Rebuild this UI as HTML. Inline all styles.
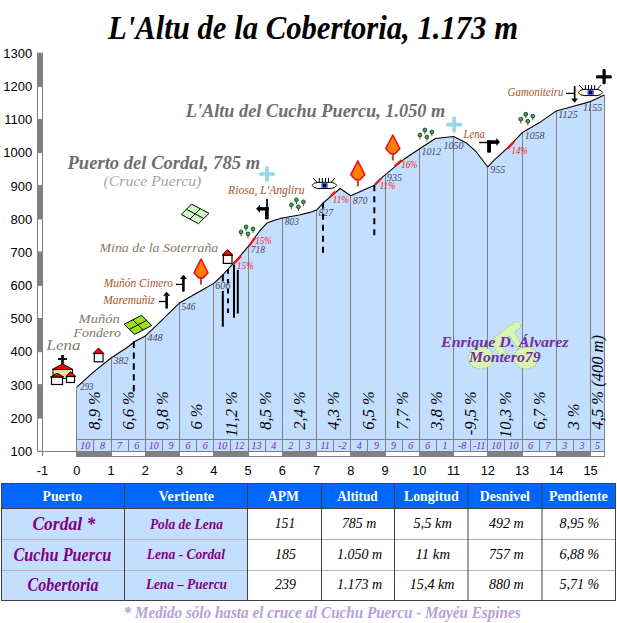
<!DOCTYPE html>
<html><head><meta charset="utf-8"><title>L'Altu de la Cobertoria</title>
<style>html,body{margin:0;padding:0;background:#fff;} body{width:617px;height:623px;position:relative;overflow:hidden;}</style>
</head><body>
<svg width="617" height="623" viewBox="0 0 617 623" style="position:absolute;left:0;top:0">
<text x="108" y="39" font-family="'Liberation Serif', serif" font-weight="bold" font-style="italic" font-size="33.5" textLength="410" lengthAdjust="spacingAndGlyphs" fill="#000">L'Altu de la Cobertoria, 1.173 m</text>
<polygon points="76.80,451.5 76.80,387.19 93.92,371.60 111.05,358.00 128.18,346.73 134.34,341.75 145.30,336.11 162.43,319.53 179.55,302.95 189.82,296.98 201.81,290.34 213.80,283.38 222.02,275.75 231.95,264.81 240.86,255.19 248.05,246.56 259.69,230.98 266.89,223.02 275.45,220.03 282.30,218.04 299.43,215.05 309.70,212.40 316.55,210.08 323.40,202.78 329.91,197.14 340.18,188.52 350.80,195.82 374.43,185.20 382.65,176.91 385.05,174.92 403.89,159.33 419.30,149.05 435.40,138.44 453.55,136.45 466.57,143.08 476.16,151.71 487.80,166.96 493.62,160.66 507.32,148.06 522.05,132.80 539.17,122.85 556.30,110.91 573.42,106.27 590.55,101.62 604.25,94.99 604.5,94.99 604.5,451.5" fill="#c4deff" stroke="none"/>
<line x1="76.5" y1="387.19" x2="76.5" y2="451" stroke="#808080" stroke-width="1"/>
<line x1="111.5" y1="358.00" x2="111.5" y2="451" stroke="#808080" stroke-width="1"/>
<line x1="145.5" y1="336.11" x2="145.5" y2="451" stroke="#808080" stroke-width="1"/>
<line x1="179.5" y1="302.95" x2="179.5" y2="451" stroke="#808080" stroke-width="1"/>
<line x1="213.5" y1="283.38" x2="213.5" y2="451" stroke="#808080" stroke-width="1"/>
<line x1="248.5" y1="246.56" x2="248.5" y2="451" stroke="#808080" stroke-width="1"/>
<line x1="282.5" y1="218.04" x2="282.5" y2="451" stroke="#808080" stroke-width="1"/>
<line x1="316.5" y1="210.08" x2="316.5" y2="451" stroke="#808080" stroke-width="1"/>
<line x1="350.5" y1="195.82" x2="350.5" y2="451" stroke="#808080" stroke-width="1"/>
<line x1="385.5" y1="174.92" x2="385.5" y2="451" stroke="#808080" stroke-width="1"/>
<line x1="419.5" y1="149.05" x2="419.5" y2="451" stroke="#808080" stroke-width="1"/>
<line x1="453.5" y1="136.45" x2="453.5" y2="451" stroke="#808080" stroke-width="1"/>
<line x1="487.5" y1="166.96" x2="487.5" y2="451" stroke="#808080" stroke-width="1"/>
<line x1="522.5" y1="132.80" x2="522.5" y2="451" stroke="#808080" stroke-width="1"/>
<line x1="556.5" y1="110.91" x2="556.5" y2="451" stroke="#808080" stroke-width="1"/>
<line x1="590.5" y1="101.62" x2="590.5" y2="451" stroke="#808080" stroke-width="1"/>
<line x1="604.5" y1="94.99" x2="604.5" y2="457" stroke="#808080" stroke-width="1"/>
<line x1="93.5" y1="439" x2="93.5" y2="451" stroke="#808080" stroke-width="1"/>
<line x1="128.5" y1="439" x2="128.5" y2="451" stroke="#808080" stroke-width="1"/>
<line x1="162.5" y1="439" x2="162.5" y2="451" stroke="#808080" stroke-width="1"/>
<line x1="196.5" y1="439" x2="196.5" y2="451" stroke="#808080" stroke-width="1"/>
<line x1="230.5" y1="439" x2="230.5" y2="451" stroke="#808080" stroke-width="1"/>
<line x1="265.5" y1="439" x2="265.5" y2="451" stroke="#808080" stroke-width="1"/>
<line x1="299.5" y1="439" x2="299.5" y2="451" stroke="#808080" stroke-width="1"/>
<line x1="333.5" y1="439" x2="333.5" y2="451" stroke="#808080" stroke-width="1"/>
<line x1="367.5" y1="439" x2="367.5" y2="451" stroke="#808080" stroke-width="1"/>
<line x1="402.5" y1="439" x2="402.5" y2="451" stroke="#808080" stroke-width="1"/>
<line x1="436.5" y1="439" x2="436.5" y2="451" stroke="#808080" stroke-width="1"/>
<line x1="470.5" y1="439" x2="470.5" y2="451" stroke="#808080" stroke-width="1"/>
<line x1="504.5" y1="439" x2="504.5" y2="451" stroke="#808080" stroke-width="1"/>
<line x1="539.5" y1="439" x2="539.5" y2="451" stroke="#808080" stroke-width="1"/>
<line x1="573.5" y1="439" x2="573.5" y2="451" stroke="#808080" stroke-width="1"/>
<line x1="76.5" y1="439.5" x2="604.5" y2="439.5" stroke="#808080" stroke-width="1"/>
<polyline points="76.80,387.19 93.92,371.60 111.05,358.00 128.18,346.73 134.34,341.75 145.30,336.11 162.43,319.53 179.55,302.95 189.82,296.98 201.81,290.34 213.80,283.38 222.02,275.75 231.95,264.81 240.86,255.19 248.05,246.56 259.69,230.98 266.89,223.02 275.45,220.03 282.30,218.04 299.43,215.05 309.70,212.40 316.55,210.08 323.40,202.78 329.91,197.14 340.18,188.52 350.80,195.82 374.43,185.20 382.65,176.91 385.05,174.92 403.89,159.33 419.30,149.05 435.40,138.44 453.55,136.45 466.57,143.08 476.16,151.71 487.80,166.96 493.62,160.66 507.32,148.06 522.05,132.80 539.17,122.85 556.30,110.91 573.42,106.27 590.55,101.62 604.25,94.99" fill="none" stroke="#000" stroke-width="1.1" stroke-linejoin="round"/>
<line x1="37.5" y1="451.5" x2="76.5" y2="451.5" stroke="#808080" stroke-width="1"/>
<rect x="37.5" y="53.20" width="5" height="33.17" fill="#808080" stroke="#808080" stroke-width="1"/>
<text x="32.2" y="57.90" font-family="'Liberation Sans', sans-serif" font-size="13" text-anchor="end" fill="#000">1300</text>
<rect x="37.5" y="86.37" width="5" height="33.17" fill="#ffffff" stroke="#808080" stroke-width="1"/>
<text x="32.2" y="91.07" font-family="'Liberation Sans', sans-serif" font-size="13" text-anchor="end" fill="#000">1200</text>
<rect x="37.5" y="119.53" width="5" height="33.17" fill="#808080" stroke="#808080" stroke-width="1"/>
<text x="32.2" y="124.23" font-family="'Liberation Sans', sans-serif" font-size="13" text-anchor="end" fill="#000">1100</text>
<rect x="37.5" y="152.70" width="5" height="33.17" fill="#ffffff" stroke="#808080" stroke-width="1"/>
<text x="32.2" y="157.40" font-family="'Liberation Sans', sans-serif" font-size="13" text-anchor="end" fill="#000">1000</text>
<rect x="37.5" y="185.87" width="5" height="33.17" fill="#808080" stroke="#808080" stroke-width="1"/>
<text x="32.2" y="190.57" font-family="'Liberation Sans', sans-serif" font-size="13" text-anchor="end" fill="#000">900</text>
<rect x="37.5" y="219.04" width="5" height="33.17" fill="#ffffff" stroke="#808080" stroke-width="1"/>
<text x="32.2" y="223.74" font-family="'Liberation Sans', sans-serif" font-size="13" text-anchor="end" fill="#000">800</text>
<rect x="37.5" y="252.20" width="5" height="33.17" fill="#808080" stroke="#808080" stroke-width="1"/>
<text x="32.2" y="256.90" font-family="'Liberation Sans', sans-serif" font-size="13" text-anchor="end" fill="#000">700</text>
<rect x="37.5" y="285.37" width="5" height="33.17" fill="#ffffff" stroke="#808080" stroke-width="1"/>
<text x="32.2" y="290.07" font-family="'Liberation Sans', sans-serif" font-size="13" text-anchor="end" fill="#000">600</text>
<rect x="37.5" y="318.54" width="5" height="33.17" fill="#808080" stroke="#808080" stroke-width="1"/>
<text x="32.2" y="323.24" font-family="'Liberation Sans', sans-serif" font-size="13" text-anchor="end" fill="#000">500</text>
<rect x="37.5" y="351.70" width="5" height="33.17" fill="#ffffff" stroke="#808080" stroke-width="1"/>
<text x="32.2" y="356.40" font-family="'Liberation Sans', sans-serif" font-size="13" text-anchor="end" fill="#000">400</text>
<rect x="37.5" y="384.87" width="5" height="33.17" fill="#808080" stroke="#808080" stroke-width="1"/>
<text x="32.2" y="389.57" font-family="'Liberation Sans', sans-serif" font-size="13" text-anchor="end" fill="#000">300</text>
<rect x="37.5" y="418.04" width="5" height="33.17" fill="#ffffff" stroke="#808080" stroke-width="1"/>
<text x="32.2" y="422.74" font-family="'Liberation Sans', sans-serif" font-size="13" text-anchor="end" fill="#000">200</text>
<text x="32.2" y="455.90" font-family="'Liberation Sans', sans-serif" font-size="13" text-anchor="end" fill="#000">100</text>
<line x1="42.5" y1="451" x2="42.5" y2="456" stroke="#808080" stroke-width="1"/>
<rect x="76.5" y="451.5" width="35" height="5" fill="#808080" stroke="#808080" stroke-width="1"/>
<rect x="111.5" y="451.5" width="34" height="5" fill="#ffffff" stroke="#808080" stroke-width="1"/>
<rect x="145.5" y="451.5" width="34" height="5" fill="#808080" stroke="#808080" stroke-width="1"/>
<rect x="179.5" y="451.5" width="34" height="5" fill="#ffffff" stroke="#808080" stroke-width="1"/>
<rect x="213.5" y="451.5" width="35" height="5" fill="#808080" stroke="#808080" stroke-width="1"/>
<rect x="248.5" y="451.5" width="34" height="5" fill="#ffffff" stroke="#808080" stroke-width="1"/>
<rect x="282.5" y="451.5" width="34" height="5" fill="#808080" stroke="#808080" stroke-width="1"/>
<rect x="316.5" y="451.5" width="34" height="5" fill="#ffffff" stroke="#808080" stroke-width="1"/>
<rect x="350.5" y="451.5" width="35" height="5" fill="#808080" stroke="#808080" stroke-width="1"/>
<rect x="385.5" y="451.5" width="34" height="5" fill="#ffffff" stroke="#808080" stroke-width="1"/>
<rect x="419.5" y="451.5" width="34" height="5" fill="#808080" stroke="#808080" stroke-width="1"/>
<rect x="453.5" y="451.5" width="34" height="5" fill="#ffffff" stroke="#808080" stroke-width="1"/>
<rect x="487.5" y="451.5" width="35" height="5" fill="#808080" stroke="#808080" stroke-width="1"/>
<rect x="522.5" y="451.5" width="34" height="5" fill="#ffffff" stroke="#808080" stroke-width="1"/>
<rect x="556.5" y="451.5" width="34" height="5" fill="#808080" stroke="#808080" stroke-width="1"/>
<rect x="590.5" y="451.5" width="14" height="5" fill="#ffffff" stroke="#808080" stroke-width="1"/>
<text x="42.55" y="475.3" font-family="'Liberation Sans', sans-serif" font-size="12.8" text-anchor="middle" fill="#000">-1</text>
<text x="76.80" y="475.3" font-family="'Liberation Sans', sans-serif" font-size="12.8" text-anchor="middle" fill="#000">0</text>
<text x="111.05" y="475.3" font-family="'Liberation Sans', sans-serif" font-size="12.8" text-anchor="middle" fill="#000">1</text>
<text x="145.30" y="475.3" font-family="'Liberation Sans', sans-serif" font-size="12.8" text-anchor="middle" fill="#000">2</text>
<text x="179.55" y="475.3" font-family="'Liberation Sans', sans-serif" font-size="12.8" text-anchor="middle" fill="#000">3</text>
<text x="213.80" y="475.3" font-family="'Liberation Sans', sans-serif" font-size="12.8" text-anchor="middle" fill="#000">4</text>
<text x="248.05" y="475.3" font-family="'Liberation Sans', sans-serif" font-size="12.8" text-anchor="middle" fill="#000">5</text>
<text x="282.30" y="475.3" font-family="'Liberation Sans', sans-serif" font-size="12.8" text-anchor="middle" fill="#000">6</text>
<text x="316.55" y="475.3" font-family="'Liberation Sans', sans-serif" font-size="12.8" text-anchor="middle" fill="#000">7</text>
<text x="350.80" y="475.3" font-family="'Liberation Sans', sans-serif" font-size="12.8" text-anchor="middle" fill="#000">8</text>
<text x="385.05" y="475.3" font-family="'Liberation Sans', sans-serif" font-size="12.8" text-anchor="middle" fill="#000">9</text>
<text x="419.30" y="475.3" font-family="'Liberation Sans', sans-serif" font-size="12.8" text-anchor="middle" fill="#000">10</text>
<text x="453.55" y="475.3" font-family="'Liberation Sans', sans-serif" font-size="12.8" text-anchor="middle" fill="#000">11</text>
<text x="487.80" y="475.3" font-family="'Liberation Sans', sans-serif" font-size="12.8" text-anchor="middle" fill="#000">12</text>
<text x="522.05" y="475.3" font-family="'Liberation Sans', sans-serif" font-size="12.8" text-anchor="middle" fill="#000">13</text>
<text x="556.30" y="475.3" font-family="'Liberation Sans', sans-serif" font-size="12.8" text-anchor="middle" fill="#000">14</text>
<text x="590.55" y="475.3" font-family="'Liberation Sans', sans-serif" font-size="12.8" text-anchor="middle" fill="#000">15</text>
<text x="85.36" y="449" font-family="'Liberation Serif', serif" font-style="italic" font-size="10" text-anchor="middle" fill="#7a28b4">10</text>
<text x="102.49" y="449" font-family="'Liberation Serif', serif" font-style="italic" font-size="10" text-anchor="middle" fill="#7a28b4">8</text>
<text x="119.61" y="449" font-family="'Liberation Serif', serif" font-style="italic" font-size="10" text-anchor="middle" fill="#7a28b4">7</text>
<text x="136.74" y="449" font-family="'Liberation Serif', serif" font-style="italic" font-size="10" text-anchor="middle" fill="#7a28b4">6</text>
<text x="153.86" y="449" font-family="'Liberation Serif', serif" font-style="italic" font-size="10" text-anchor="middle" fill="#7a28b4">10</text>
<text x="170.99" y="449" font-family="'Liberation Serif', serif" font-style="italic" font-size="10" text-anchor="middle" fill="#7a28b4">9</text>
<text x="188.11" y="449" font-family="'Liberation Serif', serif" font-style="italic" font-size="10" text-anchor="middle" fill="#7a28b4">6</text>
<text x="205.24" y="449" font-family="'Liberation Serif', serif" font-style="italic" font-size="10" text-anchor="middle" fill="#7a28b4">6</text>
<text x="222.36" y="449" font-family="'Liberation Serif', serif" font-style="italic" font-size="10" text-anchor="middle" fill="#7a28b4">10</text>
<text x="239.49" y="449" font-family="'Liberation Serif', serif" font-style="italic" font-size="10" text-anchor="middle" fill="#7a28b4">12</text>
<text x="256.61" y="449" font-family="'Liberation Serif', serif" font-style="italic" font-size="10" text-anchor="middle" fill="#7a28b4">13</text>
<text x="273.74" y="449" font-family="'Liberation Serif', serif" font-style="italic" font-size="10" text-anchor="middle" fill="#7a28b4">4</text>
<text x="290.86" y="449" font-family="'Liberation Serif', serif" font-style="italic" font-size="10" text-anchor="middle" fill="#7a28b4">2</text>
<text x="307.99" y="449" font-family="'Liberation Serif', serif" font-style="italic" font-size="10" text-anchor="middle" fill="#7a28b4">3</text>
<text x="325.11" y="449" font-family="'Liberation Serif', serif" font-style="italic" font-size="10" text-anchor="middle" fill="#7a28b4">11</text>
<text x="342.24" y="449" font-family="'Liberation Serif', serif" font-style="italic" font-size="10" text-anchor="middle" fill="#7a28b4">-2</text>
<text x="359.36" y="449" font-family="'Liberation Serif', serif" font-style="italic" font-size="10" text-anchor="middle" fill="#7a28b4">4</text>
<text x="376.49" y="449" font-family="'Liberation Serif', serif" font-style="italic" font-size="10" text-anchor="middle" fill="#7a28b4">9</text>
<text x="393.61" y="449" font-family="'Liberation Serif', serif" font-style="italic" font-size="10" text-anchor="middle" fill="#7a28b4">9</text>
<text x="410.74" y="449" font-family="'Liberation Serif', serif" font-style="italic" font-size="10" text-anchor="middle" fill="#7a28b4">6</text>
<text x="427.86" y="449" font-family="'Liberation Serif', serif" font-style="italic" font-size="10" text-anchor="middle" fill="#7a28b4">6</text>
<text x="444.99" y="449" font-family="'Liberation Serif', serif" font-style="italic" font-size="10" text-anchor="middle" fill="#7a28b4">1</text>
<text x="462.11" y="449" font-family="'Liberation Serif', serif" font-style="italic" font-size="10" text-anchor="middle" fill="#7a28b4">-8</text>
<text x="479.24" y="449" font-family="'Liberation Serif', serif" font-style="italic" font-size="10" text-anchor="middle" fill="#7a28b4">-11</text>
<text x="496.36" y="449" font-family="'Liberation Serif', serif" font-style="italic" font-size="10" text-anchor="middle" fill="#7a28b4">10</text>
<text x="513.49" y="449" font-family="'Liberation Serif', serif" font-style="italic" font-size="10" text-anchor="middle" fill="#7a28b4">10</text>
<text x="530.61" y="449" font-family="'Liberation Serif', serif" font-style="italic" font-size="10" text-anchor="middle" fill="#7a28b4">6</text>
<text x="547.74" y="449" font-family="'Liberation Serif', serif" font-style="italic" font-size="10" text-anchor="middle" fill="#7a28b4">7</text>
<text x="564.86" y="449" font-family="'Liberation Serif', serif" font-style="italic" font-size="10" text-anchor="middle" fill="#7a28b4">3</text>
<text x="581.99" y="449" font-family="'Liberation Serif', serif" font-style="italic" font-size="10" text-anchor="middle" fill="#7a28b4">3</text>
<text x="597.40" y="449" font-family="'Liberation Serif', serif" font-style="italic" font-size="10" text-anchor="middle" fill="#7a28b4">5</text>
<text transform="translate(99.52,391.2) rotate(-90)" text-anchor="end" font-family="'Liberation Serif', serif" font-style="italic" font-size="16.5" fill="#000">8,9 %</text>
<text transform="translate(133.78,391.2) rotate(-90)" text-anchor="end" font-family="'Liberation Serif', serif" font-style="italic" font-size="16.5" fill="#000">6,6 %</text>
<text transform="translate(168.03,391.2) rotate(-90)" text-anchor="end" font-family="'Liberation Serif', serif" font-style="italic" font-size="16.5" fill="#000">9,8 %</text>
<text transform="translate(202.28,429.6) rotate(-90)" font-family="'Liberation Serif', serif" font-style="italic" font-size="16.5" fill="#000">6 %</text>
<text transform="translate(236.53,391.2) rotate(-90)" text-anchor="end" font-family="'Liberation Serif', serif" font-style="italic" font-size="16.5" fill="#000">11,2 %</text>
<text transform="translate(270.78,391.2) rotate(-90)" text-anchor="end" font-family="'Liberation Serif', serif" font-style="italic" font-size="16.5" fill="#000">8,5 %</text>
<text transform="translate(305.03,391.2) rotate(-90)" text-anchor="end" font-family="'Liberation Serif', serif" font-style="italic" font-size="16.5" fill="#000">2,4 %</text>
<text transform="translate(339.28,391.2) rotate(-90)" text-anchor="end" font-family="'Liberation Serif', serif" font-style="italic" font-size="16.5" fill="#000">4,3 %</text>
<text transform="translate(373.53,391.2) rotate(-90)" text-anchor="end" font-family="'Liberation Serif', serif" font-style="italic" font-size="16.5" fill="#000">6,5 %</text>
<text transform="translate(407.78,391.2) rotate(-90)" text-anchor="end" font-family="'Liberation Serif', serif" font-style="italic" font-size="16.5" fill="#000">7,7 %</text>
<text transform="translate(442.03,391.2) rotate(-90)" text-anchor="end" font-family="'Liberation Serif', serif" font-style="italic" font-size="16.5" fill="#000">3,8 %</text>
<text transform="translate(476.28,391.2) rotate(-90)" text-anchor="end" font-family="'Liberation Serif', serif" font-style="italic" font-size="16.5" fill="#000">-9,5 %</text>
<text transform="translate(510.52,391.2) rotate(-90)" text-anchor="end" font-family="'Liberation Serif', serif" font-style="italic" font-size="16.5" fill="#000">10,3 %</text>
<text transform="translate(544.77,391.2) rotate(-90)" text-anchor="end" font-family="'Liberation Serif', serif" font-style="italic" font-size="16.5" fill="#000">6,7 %</text>
<text transform="translate(579.02,429.6) rotate(-90)" font-family="'Liberation Serif', serif" font-style="italic" font-size="16.5" fill="#000">3 %</text>
<text transform="translate(603.12,429.4) rotate(-90)" font-family="'Liberation Serif', serif" font-style="italic" font-size="16.5" fill="#000">4,5 % (400 m)</text>
<text x="80.3" y="389.9" font-family="'Liberation Serif', serif" font-style="italic" font-size="9.6" textLength="13.1" lengthAdjust="spacingAndGlyphs" fill="#484858">293</text>
<text x="113.4" y="363.6" font-family="'Liberation Serif', serif" font-style="italic" font-size="9.6" textLength="15.1" lengthAdjust="spacingAndGlyphs" fill="#484858">382</text>
<text x="147.4" y="341.3" font-family="'Liberation Serif', serif" font-style="italic" font-size="9.6" textLength="15.1" lengthAdjust="spacingAndGlyphs" fill="#484858">448</text>
<text x="181.4" y="309.6" font-family="'Liberation Serif', serif" font-style="italic" font-size="9.6" textLength="14.1" lengthAdjust="spacingAndGlyphs" fill="#484858">546</text>
<text x="215.3" y="288.5" font-family="'Liberation Serif', serif" font-style="italic" font-size="9.6" textLength="15.2" lengthAdjust="spacingAndGlyphs" fill="#484858">606</text>
<text x="250.8" y="252.6" font-family="'Liberation Serif', serif" font-style="italic" font-size="9.6" textLength="14.1" lengthAdjust="spacingAndGlyphs" fill="#484858">718</text>
<text x="284.8" y="225.0" font-family="'Liberation Serif', serif" font-style="italic" font-size="9.6" textLength="14.1" lengthAdjust="spacingAndGlyphs" fill="#484858">803</text>
<text x="318.4" y="216.4" font-family="'Liberation Serif', serif" font-style="italic" font-size="9.6" textLength="14.8" lengthAdjust="spacingAndGlyphs" fill="#484858">827</text>
<text x="352.7" y="204.2" font-family="'Liberation Serif', serif" font-style="italic" font-size="9.6" textLength="14.8" lengthAdjust="spacingAndGlyphs" fill="#484858">870</text>
<text x="386.8" y="180.6" font-family="'Liberation Serif', serif" font-style="italic" font-size="9.6" textLength="15.3" lengthAdjust="spacingAndGlyphs" fill="#484858">935</text>
<text x="421.5" y="154.9" font-family="'Liberation Serif', serif" font-style="italic" font-size="9.6" textLength="19.6" lengthAdjust="spacingAndGlyphs" fill="#484858">1012</text>
<text x="443.5" y="149.4" font-family="'Liberation Serif', serif" font-style="italic" font-size="9.6" textLength="20.0" lengthAdjust="spacingAndGlyphs" fill="#484858">1050</text>
<text x="490.2" y="173.0" font-family="'Liberation Serif', serif" font-style="italic" font-size="9.6" textLength="15.1" lengthAdjust="spacingAndGlyphs" fill="#484858">955</text>
<text x="524.7" y="139.3" font-family="'Liberation Serif', serif" font-style="italic" font-size="9.6" textLength="19.9" lengthAdjust="spacingAndGlyphs" fill="#484858">1058</text>
<text x="558.3" y="118.4" font-family="'Liberation Serif', serif" font-style="italic" font-size="9.6" textLength="19.4" lengthAdjust="spacingAndGlyphs" fill="#484858">1125</text>
<text x="582.9" y="110.8" font-family="'Liberation Serif', serif" font-style="italic" font-size="9.6" textLength="19.5" lengthAdjust="spacingAndGlyphs" fill="#484858">1155</text>
<line x1="233.2" y1="264.3" x2="241" y2="256.1" stroke="#ff1010" stroke-width="2.3"/>
<line x1="248.9" y1="246.4" x2="255.1" y2="237.6" stroke="#ff1010" stroke-width="2.3"/>
<line x1="330" y1="197" x2="335.3" y2="191.5" stroke="#ff1010" stroke-width="2.3"/>
<line x1="375.3" y1="184.4" x2="381" y2="178.5" stroke="#ff1010" stroke-width="2.3"/>
<line x1="394.7" y1="166.2" x2="401.7" y2="160.1" stroke="#ff1010" stroke-width="2.3"/>
<line x1="507.2" y1="149" x2="514" y2="141.8" stroke="#ff1010" stroke-width="2.3"/>
<text x="237.1" y="268.8" font-family="'Liberation Serif', serif" font-style="italic" font-size="9.6" textLength="16.7" lengthAdjust="spacingAndGlyphs" fill="#f81818">15%</text>
<text x="255.2" y="243.5" font-family="'Liberation Serif', serif" font-style="italic" font-size="9.6" textLength="16.5" lengthAdjust="spacingAndGlyphs" fill="#f81818">15%</text>
<text x="332.7" y="203.3" font-family="'Liberation Serif', serif" font-style="italic" font-size="9.6" textLength="16.3" lengthAdjust="spacingAndGlyphs" fill="#f81818">11%</text>
<text x="379.7" y="189" font-family="'Liberation Serif', serif" font-style="italic" font-size="9.6" textLength="15.7" lengthAdjust="spacingAndGlyphs" fill="#f81818">11%</text>
<text x="401.2" y="167.5" font-family="'Liberation Serif', serif" font-style="italic" font-size="9.6" textLength="16.3" lengthAdjust="spacingAndGlyphs" fill="#f81818">16%</text>
<text x="511.6" y="153.9" font-family="'Liberation Serif', serif" font-style="italic" font-size="9.6" textLength="16.1" lengthAdjust="spacingAndGlyphs" fill="#f81818">14%</text>
<line x1="133.8" y1="341.5" x2="133.8" y2="392" stroke="#000" stroke-width="2" stroke-dasharray="6.4 4.5"/>
<line x1="222.8" y1="274.4" x2="222.8" y2="281.4" stroke="#000" stroke-width="2"/>
<line x1="222.8" y1="291" x2="222.8" y2="326.7" stroke="#000" stroke-width="2"/>
<line x1="228" y1="269.2" x2="228" y2="318" stroke="#000" stroke-width="2" stroke-dasharray="4.6 5.2"/>
<line x1="234" y1="264.7" x2="234" y2="317.7" stroke="#000" stroke-width="2"/>
<line x1="237.8" y1="269.9" x2="237.8" y2="313.5" stroke="#000" stroke-width="2"/>
<line x1="323" y1="202.7" x2="323" y2="254.3" stroke="#000" stroke-width="2" stroke-dasharray="6 5"/>
<line x1="374.3" y1="185.2" x2="374.3" y2="235.3" stroke="#000" stroke-width="2" stroke-dasharray="6 5"/>
<text x="185.8" y="116.8" font-family="'Liberation Serif', serif" font-weight="bold" font-style="italic" font-size="18" textLength="259.4" lengthAdjust="spacingAndGlyphs" fill="#6e6e6e">L'Altu del Cuchu Puercu, 1.050 m</text>
<text x="67.5" y="168.7" font-family="'Liberation Serif', serif" font-weight="bold" font-style="italic" font-size="18" textLength="192.6" lengthAdjust="spacingAndGlyphs" fill="#6e6e6e">Puerto del Cordal, 785 m</text>
<text x="103.6" y="185.7" font-family="'Liberation Serif', serif" font-style="italic" font-size="15" textLength="97.7" lengthAdjust="spacingAndGlyphs" fill="#a6a6a6">(Cruce Puercu)</text>
<text x="228.1" y="194.2" font-family="'Liberation Serif', serif" font-style="italic" font-size="12" textLength="76.5" lengthAdjust="spacingAndGlyphs" fill="#a8542a">Riosa, L'Angliru</text>
<text x="99.6" y="251.9" font-family="'Liberation Serif', serif" font-style="italic" font-size="13.5" textLength="118.7" lengthAdjust="spacingAndGlyphs" fill="#857868">Mina de la Soterraña</text>
<text x="103.8" y="287" font-family="'Liberation Serif', serif" font-style="italic" font-size="11.5" textLength="69.2" lengthAdjust="spacingAndGlyphs" fill="#a8542a">Muñón Cimero</text>
<text x="103.2" y="303.6" font-family="'Liberation Serif', serif" font-style="italic" font-size="11.5" textLength="51.9" lengthAdjust="spacingAndGlyphs" fill="#a8542a">Maremuñiz</text>
<text x="78.6" y="323.3" font-family="'Liberation Serif', serif" font-style="italic" font-size="13.5" textLength="41.3" lengthAdjust="spacingAndGlyphs" fill="#857868">Muñón</text>
<text x="73.5" y="337" font-family="'Liberation Serif', serif" font-style="italic" font-size="13.5" textLength="47.4" lengthAdjust="spacingAndGlyphs" fill="#857868">Fondero</text>
<text x="46.6" y="350.3" font-family="'Liberation Serif', serif" font-style="italic" font-size="15.5" textLength="33.9" lengthAdjust="spacingAndGlyphs" fill="#857868">Lena</text>
<text x="463.5" y="138" font-family="'Liberation Serif', serif" font-style="italic" font-size="12" textLength="21.4" lengthAdjust="spacingAndGlyphs" fill="#a8542a">Lena</text>
<text x="507.6" y="96" font-family="'Liberation Serif', serif" font-style="italic" font-size="12" textLength="55.9" lengthAdjust="spacingAndGlyphs" fill="#a8542a">Gamoniteiru</text>
<polygon points="124.1,324.3 141.5,315.3 151.8,325.5 134.5,334.4" fill="#99e11f" stroke="#000" stroke-width="1" stroke-linejoin="round"/>
<line x1="132.8" y1="319.8" x2="143.15" y2="329.95" stroke="#000" stroke-width="1"/>
<line x1="146.65" y1="320.4" x2="129.3" y2="329.35" stroke="#000" stroke-width="1"/>
<polygon points="191.5,204.1 209,213.3 198.5,223.7 181.3,214.5" fill="#ccf8c4" stroke="#000" stroke-width="1" stroke-linejoin="round"/>
<line x1="200.25" y1="208.7" x2="189.9" y2="219.1" stroke="#000" stroke-width="1"/>
<line x1="203.75" y1="218.5" x2="186.4" y2="209.3" stroke="#000" stroke-width="1"/>
<line x1="201" y1="277.3" x2="201" y2="284.6" stroke="#a0522d" stroke-width="2"/>
<polygon points="201,259.1 194,272.8 198.7,277.90000000000003 203.3,277.90000000000003 208,272.8" fill="#ff8000" stroke="#ee1122" stroke-width="1.6" stroke-linejoin="round"/>
<line x1="357.8" y1="179.1" x2="357.8" y2="186.4" stroke="#a0522d" stroke-width="2"/>
<polygon points="357.8,160.9 350.8,174.6 355.5,179.7 360.1,179.7 364.8,174.6" fill="#ff8000" stroke="#ee1122" stroke-width="1.6" stroke-linejoin="round"/>
<line x1="392.8" y1="153.2" x2="392.8" y2="160.5" stroke="#a0522d" stroke-width="2"/>
<polygon points="392.8,135.0 385.8,148.7 390.5,153.79999999999998 395.1,153.79999999999998 399.8,148.7" fill="#ff8000" stroke="#ee1122" stroke-width="1.6" stroke-linejoin="round"/>
<line x1="241" y1="233.4" x2="241" y2="236.20000000000002" stroke="#a0522d" stroke-width="1.1"/>
<circle cx="241" cy="231.9" r="1.9" fill="#22b84a" stroke="#222" stroke-width="0.8"/>
<line x1="246" y1="228.4" x2="246" y2="231.20000000000002" stroke="#a0522d" stroke-width="1.1"/>
<circle cx="246" cy="226.9" r="1.9" fill="#22b84a" stroke="#222" stroke-width="0.8"/>
<line x1="253" y1="230.4" x2="253" y2="233.20000000000002" stroke="#a0522d" stroke-width="1.1"/>
<circle cx="253" cy="228.9" r="1.9" fill="#22b84a" stroke="#222" stroke-width="0.8"/>
<line x1="248" y1="235.4" x2="248" y2="238.20000000000002" stroke="#a0522d" stroke-width="1.1"/>
<circle cx="248" cy="233.9" r="1.9" fill="#22b84a" stroke="#222" stroke-width="0.8"/>
<line x1="291.4" y1="206.3" x2="291.4" y2="209.10000000000002" stroke="#a0522d" stroke-width="1.1"/>
<circle cx="291.4" cy="204.8" r="1.9" fill="#22b84a" stroke="#222" stroke-width="0.8"/>
<line x1="296.4" y1="201.3" x2="296.4" y2="204.10000000000002" stroke="#a0522d" stroke-width="1.1"/>
<circle cx="296.4" cy="199.8" r="1.9" fill="#22b84a" stroke="#222" stroke-width="0.8"/>
<line x1="303.4" y1="203.3" x2="303.4" y2="206.10000000000002" stroke="#a0522d" stroke-width="1.1"/>
<circle cx="303.4" cy="201.8" r="1.9" fill="#22b84a" stroke="#222" stroke-width="0.8"/>
<line x1="298.4" y1="208.3" x2="298.4" y2="211.10000000000002" stroke="#a0522d" stroke-width="1.1"/>
<circle cx="298.4" cy="206.8" r="1.9" fill="#22b84a" stroke="#222" stroke-width="0.8"/>
<line x1="419.9" y1="136.5" x2="419.9" y2="139.3" stroke="#a0522d" stroke-width="1.1"/>
<circle cx="419.9" cy="135" r="1.9" fill="#22b84a" stroke="#222" stroke-width="0.8"/>
<line x1="424.9" y1="131.5" x2="424.9" y2="134.3" stroke="#a0522d" stroke-width="1.1"/>
<circle cx="424.9" cy="130" r="1.9" fill="#22b84a" stroke="#222" stroke-width="0.8"/>
<line x1="431.9" y1="133.5" x2="431.9" y2="136.3" stroke="#a0522d" stroke-width="1.1"/>
<circle cx="431.9" cy="132" r="1.9" fill="#22b84a" stroke="#222" stroke-width="0.8"/>
<line x1="426.9" y1="138.5" x2="426.9" y2="141.3" stroke="#a0522d" stroke-width="1.1"/>
<circle cx="426.9" cy="137" r="1.9" fill="#22b84a" stroke="#222" stroke-width="0.8"/>
<line x1="520.8" y1="120.7" x2="520.8" y2="123.5" stroke="#a0522d" stroke-width="1.1"/>
<circle cx="520.8" cy="119.2" r="1.9" fill="#22b84a" stroke="#222" stroke-width="0.8"/>
<line x1="525.8" y1="115.7" x2="525.8" y2="118.5" stroke="#a0522d" stroke-width="1.1"/>
<circle cx="525.8" cy="114.2" r="1.9" fill="#22b84a" stroke="#222" stroke-width="0.8"/>
<line x1="532.8" y1="117.7" x2="532.8" y2="120.5" stroke="#a0522d" stroke-width="1.1"/>
<circle cx="532.8" cy="116.2" r="1.9" fill="#22b84a" stroke="#222" stroke-width="0.8"/>
<line x1="527.8" y1="122.7" x2="527.8" y2="125.5" stroke="#a0522d" stroke-width="1.1"/>
<circle cx="527.8" cy="121.2" r="1.9" fill="#22b84a" stroke="#222" stroke-width="0.8"/>
<rect x="94.3" y="353.5" width="8.7" height="8.3" fill="#fff" stroke="#000" stroke-width="1.2"/>
<polygon points="98.5,348 93.1,353.5 103.9,353.5" fill="#ff0000" stroke="#000" stroke-width="0.9" stroke-linejoin="round"/>
<rect x="223.3" y="255.1" width="8.7" height="8.3" fill="#fff" stroke="#000" stroke-width="1.2"/>
<polygon points="227.5,249.6 222.1,255.1 232.9,255.1" fill="#ff0000" stroke="#000" stroke-width="0.9" stroke-linejoin="round"/>
<rect x="53" y="369.5" width="19.5" height="9" fill="#f5dc9a" stroke="#000" stroke-width="1"/>
<polygon points="62.5,364 52,369.5 73,369.5" fill="#ff0000" stroke="#000" stroke-width="1" stroke-linejoin="round"/>
<rect x="61.2" y="355" width="2.6" height="9.6" fill="#000"/>
<rect x="58" y="358.1" width="9" height="1.9" fill="#000"/>
<rect x="51.5" y="377" width="11" height="7.5" fill="#fff" stroke="#000" stroke-width="1.2"/>
<polygon points="57,373.2 50.5,377 63.7,377" fill="#ff0000" stroke="#000" stroke-width="1" stroke-linejoin="round"/>
<rect x="66.5" y="376.5" width="8" height="6" fill="#fff" stroke="#000" stroke-width="1.2"/>
<polygon points="70.5,371.8 66,376.5 76,376.5" fill="#ff0000" stroke="#000" stroke-width="1" stroke-linejoin="round"/>
<polygon points="312.1,185.3 314.1,183.3 317.9,182.3 330.9,182.3 334.7,183.3 336.7,185.3 334.7,187.5 330.9,188.5 317.9,188.5 314.1,187.5" fill="#fff" stroke="#000" stroke-width="1"/>
<rect x="321.2" y="182.9" width="6.6" height="5" rx="1.2" fill="#3b64ff"/>
<rect x="322.8" y="183.9" width="3.4" height="3" fill="#000"/>
<line x1="319.3" y1="178.0" x2="319.3" y2="182.3" stroke="#000" stroke-width="1"/>
<line x1="322.4" y1="178.0" x2="322.4" y2="182.3" stroke="#000" stroke-width="1"/>
<line x1="325.5" y1="178.0" x2="325.5" y2="182.3" stroke="#000" stroke-width="1"/>
<line x1="328.5" y1="178.0" x2="328.5" y2="182.3" stroke="#000" stroke-width="1"/>
<line x1="313.0" y1="178.0" x2="317.4" y2="182.5" stroke="#000" stroke-width="1"/>
<line x1="335.0" y1="178.0" x2="331.0" y2="182.5" stroke="#000" stroke-width="1"/>
<polygon points="578.2,92.4 580.2,90.4 584.0,89.4 597.0,89.4 600.8,90.4 602.8,92.4 600.8,94.6 597.0,95.6 584.0,95.6 580.2,94.6" fill="#fff" stroke="#000" stroke-width="1"/>
<rect x="587.3" y="90.0" width="6.6" height="5" rx="1.2" fill="#3b64ff"/>
<rect x="588.9" y="91.0" width="3.4" height="3" fill="#000"/>
<line x1="585.4" y1="85.1" x2="585.4" y2="89.4" stroke="#000" stroke-width="1"/>
<line x1="588.5" y1="85.1" x2="588.5" y2="89.4" stroke="#000" stroke-width="1"/>
<line x1="591.6" y1="85.1" x2="591.6" y2="89.4" stroke="#000" stroke-width="1"/>
<line x1="594.6" y1="85.1" x2="594.6" y2="89.4" stroke="#000" stroke-width="1"/>
<line x1="579.1" y1="85.1" x2="583.5" y2="89.6" stroke="#000" stroke-width="1"/>
<line x1="601.1" y1="85.1" x2="597.1" y2="89.6" stroke="#000" stroke-width="1"/>
<rect x="182.1" y="278.3" width="2.6" height="13.5" rx="1" fill="#000"/>
<polygon points="179.9,278.9 183.4,274.8 187,278.9" fill="#000"/>
<line x1="176" y1="284.4" x2="182.5" y2="284.4" stroke="#000" stroke-width="1.3"/>
<rect x="165.4" y="295.4" width="2.5" height="13.4" rx="1" fill="#000"/>
<polygon points="163,295.8 166.6,291.8 170.2,295.8" fill="#000"/>
<line x1="159" y1="301.5" x2="165.8" y2="301.5" stroke="#000" stroke-width="1.3"/>
<rect x="266.2" y="198.9" width="1.7" height="9" fill="#000"/>
<rect x="265.1" y="207.1" width="3.6" height="12.4" rx="1.2" fill="#000"/>
<rect x="258" y="207.1" width="10.7" height="3.4" fill="#000"/>
<polygon points="256.1,208.8 259.9,205.1 259.9,212.7" fill="#000"/>
<line x1="479.1" y1="142.5" x2="488" y2="142.5" stroke="#000" stroke-width="1.4"/>
<rect x="487.1" y="140.3" width="3.9" height="12.4" rx="1.2" fill="#000"/>
<rect x="487.1" y="140.3" width="10" height="3.6" fill="#000"/>
<polygon points="500,142.1 496.3,138.1 496.3,145.9" fill="#000"/>
<rect x="573.8" y="86.2" width="1.7" height="13" fill="#000"/>
<polygon points="571.1,98.5 574.6,102.8 578,98.5" fill="#000"/>
<line x1="566" y1="93.4" x2="574" y2="93.4" stroke="#000" stroke-width="1.3"/>
<rect x="602.5" y="69.1" width="3.2" height="15.2" rx="1.4" fill="#000"/>
<rect x="596" y="75.3" width="15.8" height="3.3" rx="1.4" fill="#000"/>
<rect x="265.15" y="166.15" width="3.7" height="15.7" rx="1" fill="#98d6e8"/>
<rect x="259.10" y="172.15" width="15.8" height="3.7" rx="1" fill="#98d6e8"/>
<rect x="452.25" y="116.85" width="3.7" height="15.7" rx="1" fill="#98d6e8"/>
<rect x="446.20" y="122.85" width="15.8" height="3.7" rx="1" fill="#98d6e8"/>
<g fill="#d9f5b0" stroke="#8fb45c" stroke-width="1.6" stroke-dasharray="1 1.4"><ellipse cx="481.1" cy="358" rx="12.6" ry="10.6"/><ellipse cx="526" cy="358" rx="12" ry="10.6"/><polygon points="516.5,330 495,348 489.5,342.5 511.5,324.5"/><polygon points="509,334 513.5,331 522,346 518,348.5"/><polygon points="492,344 497.5,341 507,355 502,357.5"/><circle cx="516.2" cy="325.9" r="3.8"/></g>
<g fill="#d9f5b0" stroke="none"><ellipse cx="481.1" cy="358" rx="12.6" ry="10.6"/><ellipse cx="526" cy="358" rx="12" ry="10.6"/><polygon points="516.5,330 495,348 489.5,342.5 511.5,324.5"/><polygon points="509,334 513.5,331 522,346 518,348.5"/><polygon points="492,344 497.5,341 507,355 502,357.5"/><circle cx="516.2" cy="325.9" r="3.8"/></g>
<text x="441" y="346.6" font-family="'Liberation Serif', serif" font-weight="bold" font-style="italic" font-size="15" textLength="127.6" lengthAdjust="spacingAndGlyphs" fill="#70309e">Enrique D. Álvarez</text>
<text x="468.9" y="362.4" font-family="'Liberation Serif', serif" font-weight="bold" font-style="italic" font-size="15" textLength="71.7" lengthAdjust="spacingAndGlyphs" fill="#70309e">Montero79</text>
<rect x="1.5" y="483.5" width="614.0" height="25.0" fill="#0066ff"/>
<rect x="1.5" y="508.5" width="246.0" height="92.0" fill="#c4deff"/>
<line x1="1.5" y1="539.5" x2="615.5" y2="539.5" stroke="#b4b4b4" stroke-width="1"/>
<line x1="1.5" y1="570.5" x2="615.5" y2="570.5" stroke="#b4b4b4" stroke-width="1"/>
<line x1="124.5" y1="483.5" x2="124.5" y2="600.5" stroke="#404040" stroke-width="1"/>
<line x1="247.5" y1="483.5" x2="247.5" y2="600.5" stroke="#404040" stroke-width="1"/>
<line x1="321.5" y1="483.5" x2="321.5" y2="600.5" stroke="#404040" stroke-width="1"/>
<line x1="394.5" y1="483.5" x2="394.5" y2="600.5" stroke="#404040" stroke-width="1"/>
<line x1="468" y1="483.5" x2="468" y2="600.5" stroke="#404040" stroke-width="1"/>
<line x1="542" y1="483.5" x2="542" y2="600.5" stroke="#404040" stroke-width="1"/>
<line x1="1.5" y1="508.5" x2="615.5" y2="508.5" stroke="#404040" stroke-width="1"/>
<rect x="1.5" y="483.5" width="614.0" height="117.0" fill="none" stroke="#404040" stroke-width="1"/>
<text x="42.6" y="500.8" font-family="'Liberation Serif', serif" font-weight="bold" font-size="15.3" textLength="39.5" lengthAdjust="spacingAndGlyphs" fill="#fff">Puerto</text>
<text x="158.6" y="500.8" font-family="'Liberation Serif', serif" font-weight="bold" font-size="15.3" textLength="55.6" lengthAdjust="spacingAndGlyphs" fill="#fff">Vertiente</text>
<text x="267.8" y="500.8" font-family="'Liberation Serif', serif" font-weight="bold" font-size="15.3" textLength="31.1" lengthAdjust="spacingAndGlyphs" fill="#fff">APM</text>
<text x="337.2" y="500.8" font-family="'Liberation Serif', serif" font-weight="bold" font-size="15.3" textLength="40.5" lengthAdjust="spacingAndGlyphs" fill="#fff">Altitud</text>
<text x="403.9" y="500.8" font-family="'Liberation Serif', serif" font-weight="bold" font-size="15.3" textLength="54.9" lengthAdjust="spacingAndGlyphs" fill="#fff">Longitud</text>
<text x="479.8" y="500.8" font-family="'Liberation Serif', serif" font-weight="bold" font-size="15.3" textLength="50.2" lengthAdjust="spacingAndGlyphs" fill="#fff">Desnivel</text>
<text x="548.9" y="500.8" font-family="'Liberation Serif', serif" font-weight="bold" font-size="15.3" textLength="58.9" lengthAdjust="spacingAndGlyphs" fill="#fff">Pendiente</text>
<text x="32.4" y="530.1" font-family="'Liberation Serif', serif" font-weight="bold" font-style="italic" font-size="19" textLength="62.8" lengthAdjust="spacingAndGlyphs" fill="#800080">Cordal *</text>
<text x="149.9" y="528.5" font-family="'Liberation Serif', serif" font-weight="bold" font-style="italic" font-size="14" textLength="73.0" lengthAdjust="spacingAndGlyphs" fill="#800080">Pola de Lena</text>
<text x="274.8" y="528.4" font-family="'Liberation Serif', serif" font-style="italic" font-size="14.5" textLength="20.4" lengthAdjust="spacingAndGlyphs" fill="#000">151</text>
<text x="341.9" y="528.4" font-family="'Liberation Serif', serif" font-style="italic" font-size="14.5" textLength="34.4" lengthAdjust="spacingAndGlyphs" fill="#000">785 m</text>
<text x="413.4" y="528.4" font-family="'Liberation Serif', serif" font-style="italic" font-size="14.5" textLength="38.4" lengthAdjust="spacingAndGlyphs" fill="#000">5,5 km</text>
<text x="488.9" y="528.4" font-family="'Liberation Serif', serif" font-style="italic" font-size="14.5" textLength="34.9" lengthAdjust="spacingAndGlyphs" fill="#000">492 m</text>
<text x="559.4" y="528.4" font-family="'Liberation Serif', serif" font-style="italic" font-size="14.5" textLength="39.9" lengthAdjust="spacingAndGlyphs" fill="#000">8,95 %</text>
<text x="13.4" y="560.9" font-family="'Liberation Serif', serif" font-weight="bold" font-style="italic" font-size="19" textLength="98.0" lengthAdjust="spacingAndGlyphs" fill="#800080">Cuchu Puercu</text>
<text x="146.7" y="558.9" font-family="'Liberation Serif', serif" font-weight="bold" font-style="italic" font-size="14" textLength="78.2" lengthAdjust="spacingAndGlyphs" fill="#800080">Lena - Cordal</text>
<text x="275.1" y="559.1" font-family="'Liberation Serif', serif" font-style="italic" font-size="14.5" textLength="20.8" lengthAdjust="spacingAndGlyphs" fill="#000">185</text>
<text x="336.9" y="559.1" font-family="'Liberation Serif', serif" font-style="italic" font-size="14.5" textLength="45.2" lengthAdjust="spacingAndGlyphs" fill="#000">1.050 m</text>
<text x="415.6" y="559.1" font-family="'Liberation Serif', serif" font-style="italic" font-size="14.5" textLength="34.4" lengthAdjust="spacingAndGlyphs" fill="#000">11 km</text>
<text x="488.9" y="559.1" font-family="'Liberation Serif', serif" font-style="italic" font-size="14.5" textLength="34.9" lengthAdjust="spacingAndGlyphs" fill="#000">757 m</text>
<text x="559.4" y="559.1" font-family="'Liberation Serif', serif" font-style="italic" font-size="14.5" textLength="39.9" lengthAdjust="spacingAndGlyphs" fill="#000">6,88 %</text>
<text x="27.6" y="590.9" font-family="'Liberation Serif', serif" font-weight="bold" font-style="italic" font-size="19" textLength="70.9" lengthAdjust="spacingAndGlyphs" fill="#800080">Cobertoria</text>
<text x="145.9" y="589.3" font-family="'Liberation Serif', serif" font-weight="bold" font-style="italic" font-size="14" textLength="81.0" lengthAdjust="spacingAndGlyphs" fill="#800080">Lena – Puercu</text>
<text x="275.1" y="588.8" font-family="'Liberation Serif', serif" font-style="italic" font-size="14.5" textLength="20.8" lengthAdjust="spacingAndGlyphs" fill="#000">239</text>
<text x="336.9" y="588.8" font-family="'Liberation Serif', serif" font-style="italic" font-size="14.5" textLength="45.2" lengthAdjust="spacingAndGlyphs" fill="#000">1.173 m</text>
<text x="409.8" y="588.8" font-family="'Liberation Serif', serif" font-style="italic" font-size="14.5" textLength="44.6" lengthAdjust="spacingAndGlyphs" fill="#000">15,4 km</text>
<text x="488.9" y="588.8" font-family="'Liberation Serif', serif" font-style="italic" font-size="14.5" textLength="34.9" lengthAdjust="spacingAndGlyphs" fill="#000">880 m</text>
<text x="559.4" y="588.8" font-family="'Liberation Serif', serif" font-style="italic" font-size="14.5" textLength="39.9" lengthAdjust="spacingAndGlyphs" fill="#000">5,71 %</text>
<text x="123.6" y="617.9" font-family="'Liberation Serif', serif" font-weight="bold" font-style="italic" font-size="16" textLength="397" lengthAdjust="spacingAndGlyphs" fill="#b89ddc">* Medido sólo hasta el cruce al Cuchu Puercu - Mayéu Espines</text>
</svg>
</body></html>
